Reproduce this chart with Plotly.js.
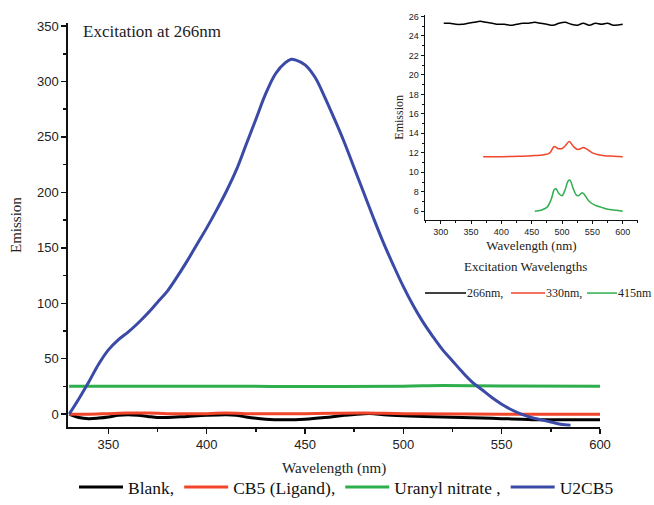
<!DOCTYPE html>
<html>
<head>
<meta charset="utf-8">
<script src="https://cdn.plot.ly/plotly-3.0.1.min.js"></script>
<style>html,body{margin:0;padding:0;background:#fff;}#chart{width:654px;height:505px;}</style>
</head>
<body>
<div id="chart"></div>
<script>
// ---- Main panel data (Excitation at 266nm) ----
const blankX = [330,335,340,345,350,355,360,365,370,375,380,390,400,410,415,420,430,440,450,460,470,480,485,490,500,510,520,530,540,550,560,570,580,590,600];
const blankY = [0,-3,-4,-3.5,-2.5,-1,-0.5,-1,-2,-3,-3,-2,-1,-0.5,-1,-2.5,-4.5,-5,-4.5,-3,-1,0.5,0.5,-0.5,-1.5,-2,-2.5,-3,-3.5,-4,-4.5,-5,-5,-5,-5];

const ligandX = [330,340,350,360,370,380,400,410,420,450,480,500,550,600];
const ligandY = [0,0,0.5,1,1,0.5,0.5,1,0.5,0.5,1,0.5,0,0];

const uranylX = [330,360,400,450,500,520,550,600];
const uranylY = [25.2,25.3,25.3,25.0,25.3,25.8,25.5,25.3];

const u2cb5X = [330,335,340,345,350,355,360,365,370,375,380,385,390,395,400,405,410,415,420,425,430,435,440,443,445,450,455,460,465,470,475,480,485,490,495,500,505,510,515,520,525,530,535,540,545,550,555,560,565,570,575,580,585];
const u2cb5Y = [0,14,29,45,58,67,74,82,91,101,111,124,138,153,168,184,201,220,243,266,289,307,317,320,319.5,315,304,286,266,245,222,199,176,154,134,115,98,83,70,58,48,38,29,22,15,9,4,0,-3,-5,-7,-9,-10];

const mainNames = ["Blank,", "CB5 (Ligand),", "Uranyl nitrate ,", "U2CB5"];

// ---- Inset data (Excitation wavelengths) ----
const ex266X = [305,315,325,335,345,355,365,375,385,395,405,415,425,435,445,455,465,475,485,495,505,515,525,535,545,555,565,575,585,600];
const ex266Y = [25.3,25.3,25.2,25.2,25.3,25.4,25.5,25.4,25.3,25.2,25.2,25.1,25.2,25.3,25.3,25.4,25.3,25.2,25.1,25.3,25.4,25.2,25.1,25.3,25.1,25.3,25.2,25.3,25.1,25.2];

const ex330X = [370,400,430,450,470,480,487,493,500,505,512,518,525,530,535,540,550,560,570,585,600];
const ex330Y = [11.6,11.6,11.65,11.7,11.8,12.0,12.65,12.45,12.45,12.7,13.15,12.7,12.35,12.4,12.55,12.4,12.0,11.8,11.7,11.65,11.6];

const ex415X = [455,465,475,482,487,490,495,500,505,510,513,518,523,527,533,537,545,555,565,575,590,600];
const ex415Y = [6.0,6.1,6.4,7.2,8.2,8.3,7.8,7.6,8.2,9.1,9.2,8.4,7.7,7.6,7.9,7.7,7.0,6.6,6.4,6.2,6.1,6.0];

const insetNames = ["266nm,", "330nm,", "415nm"];
const insetLegendTitle = "Excitation Wavelengths";

const mainColors = ["#000000", "#f2452a", "#2fae4e", "#3a4aa6"];
const insetColors = ["#000000", "#f2452a", "#2fae4e"];

const serif = "Liberation Serif, Times New Roman, serif";
const sans = "Liberation Sans, Arial, sans-serif";

const traces = [
  {x: blankX, y: blankY, name: mainNames[0], line: {color: mainColors[0], width: 3, shape: 'spline'}},
  {x: ligandX, y: ligandY, name: mainNames[1], line: {color: mainColors[1], width: 3, shape: 'spline'}},
  {x: uranylX, y: uranylY, name: mainNames[2], line: {color: mainColors[2], width: 3, shape: 'spline'}},
  {x: u2cb5X, y: u2cb5Y, name: mainNames[3], line: {color: mainColors[3], width: 3, shape: 'spline'}},
  {x: ex266X, y: ex266Y, name: insetNames[0], xaxis: 'x2', yaxis: 'y2', showlegend: false, line: {color: insetColors[0], width: 1.5, shape: 'spline'}},
  {x: ex330X, y: ex330Y, name: insetNames[1], xaxis: 'x2', yaxis: 'y2', showlegend: false, line: {color: insetColors[1], width: 1.5, shape: 'spline'}},
  {x: ex415X, y: ex415Y, name: insetNames[2], xaxis: 'x2', yaxis: 'y2', showlegend: false, line: {color: insetColors[2], width: 1.5, shape: 'spline'}}
].map(t => Object.assign({type: 'scatter', mode: 'lines', hoverinfo: 'skip'}, t));

const W = 654, H = 505;

// inset legend (drawn by hand so it fits inside the page)
const insetLegendY = (H - 296) / H;
const insetLegendLines = [[425, 466], [511, 545], [587, 617]];
const insetLegendText = [467, 546, 618];
const shapes = insetLegendLines.map((seg, i) => ({
  type: 'line', xref: 'paper', yref: 'paper', x0: seg[0] / W, x1: seg[1] / W, y0: insetLegendY, y1: insetLegendY,
  line: {color: insetColors[i], width: 1.5}
}));
const annotations = [
  {text: 'Excitation at 266nm', xref: 'paper', yref: 'paper', x: 81 / W, y: (H - 32) / H,
   xanchor: 'left', yanchor: 'middle', showarrow: false, font: {family: serif, size: 17, color: '#222'}},
  {text: insetLegendTitle, xref: 'paper', yref: 'paper', x: 525 / W, y: (H - 269) / H,
   xanchor: 'center', yanchor: 'middle', showarrow: false, font: {family: serif, size: 13, color: '#222'}}
].concat(insetNames.map((n, i) => ({
  text: n, xref: 'paper', yref: 'paper', x: insetLegendText[i] / W, y: insetLegendY,
  xanchor: 'left', yanchor: 'middle', showarrow: false, xshift: -2, font: {family: serif, size: 12, color: '#222'}
})));

const layout = {
  width: W, height: H,
  margin: {l: 0, r: 0, t: 0, b: 0},
  paper_bgcolor: '#ffffff', plot_bgcolor: 'rgba(0,0,0,0)',
  showlegend: true,
  xaxis: {
    domain: [68.3 / W, 600 / W], range: [329.6, 600],
    tick0: 350, dtick: 50, ticks: 'outside', ticklen: 5, tickwidth: 1.5, tickcolor: '#111',
    minor: {tick0: 325, dtick: 25, ticks: 'outside', ticklen: 3, tickwidth: 1.5, tickcolor: '#111'},
    showline: true, linecolor: '#111', linewidth: 2, showgrid: false, zeroline: false,
    tickfont: {family: sans, size: 13, color: '#222'},
    title: {text: 'Wavelength (nm)', font: {family: serif, size: 15, color: '#222'}, standoff: 11},
    automargin: false
  },
  yaxis: {
    domain: [(H - 431.1) / H, (H - 23.5) / H], range: [-11.4, 352.5],
    tick0: 0, dtick: 50, ticks: 'outside', ticklen: 5, tickwidth: 1.5, tickcolor: '#111',
    minor: {tick0: 25, dtick: 50, ticks: 'outside', ticklen: 3, tickwidth: 1.5, tickcolor: '#111'},
    showline: true, linecolor: '#111', linewidth: 2, showgrid: false, zeroline: false,
    tickfont: {family: sans, size: 13, color: '#222'},
    title: {text: 'Emission', font: {family: serif, size: 15, color: '#222'}, standoff: 12},
    automargin: false
  },
  xaxis2: {
    anchor: 'y2', domain: [425 / W, 638 / W], range: [274.1, 625.2],
    tick0: 300, dtick: 50, ticks: 'outside', ticklen: 3, tickwidth: 1, tickcolor: '#111',
    minor: {tick0: 275, dtick: 25, ticks: 'outside', ticklen: 2, tickwidth: 1, tickcolor: '#111'},
    showline: true, linecolor: '#111', linewidth: 1.5, showgrid: false, zeroline: false,
    tickfont: {family: sans, size: 9, color: '#222'},
    title: {text: 'Wavelength (nm)', font: {family: serif, size: 13, color: '#222'}, standoff: 5},
    automargin: false
  },
  yaxis2: {
    anchor: 'x2', domain: [(H - 222) / H, (H - 15) / H], range: [5.12, 26.17],
    tick0: 6, dtick: 2, ticks: 'outside', ticklen: 3, tickwidth: 1, tickcolor: '#111',
    minor: {tick0: 5, dtick: 2, ticks: 'outside', ticklen: 2, tickwidth: 1, tickcolor: '#111'},
    showline: true, linecolor: '#111', linewidth: 1.5, showgrid: false, zeroline: false,
    tickfont: {family: sans, size: 9, color: '#222'},
    title: {text: 'Emission', font: {family: serif, size: 12, color: '#222'}, standoff: 2},
    automargin: false
  },
  legend: {
    orientation: 'h', x: 74 / W, xanchor: 'left', y: (H - 492) / H, yanchor: 'middle',
    font: {family: serif, size: 17.5, color: '#111'}, itemwidth: 44,
    bgcolor: 'rgba(0,0,0,0)', itemclick: false
  },
  shapes: shapes,
  annotations: annotations
};

Plotly.newPlot('chart', traces, layout, {staticPlot: true, displayModeBar: false});
</script>
</body>
</html>
